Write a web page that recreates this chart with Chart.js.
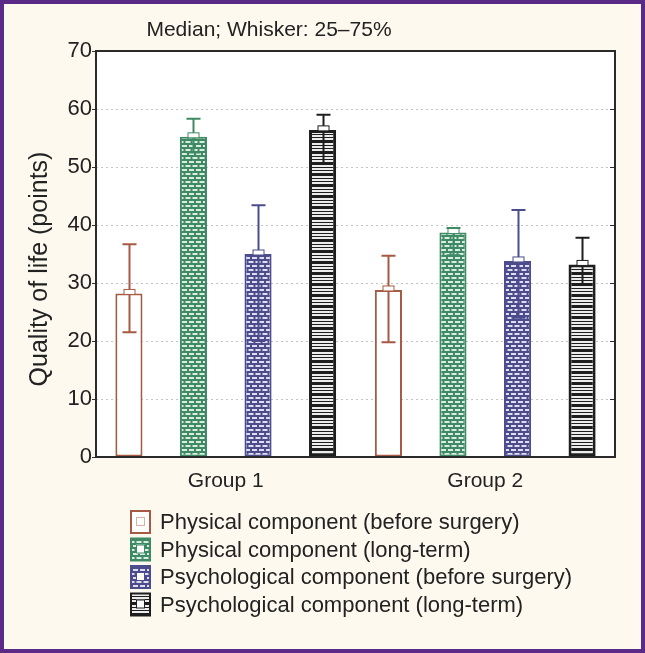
<!DOCTYPE html>
<html>
<head>
<meta charset="utf-8">
<script src="https://cdn.jsdelivr.net/npm/chart.js@4/dist/chart.umd.min.js"></script>
<style>
html,body{margin:0;padding:0;background:#fdf9ee;}
canvas{display:block;}
</style>
</head>
<body>
<canvas id="c" width="645" height="653"></canvas>
<script>
// ---- data ----
const categories = ['Group 1', 'Group 2'];
const seriesLabels = [
  'Physical component (before surgery)',
  'Physical component (long-term)',
  'Psychological component (before surgery)',
  'Psychological component (long-term)'
];
const chartTitle = 'Median; Whisker: 25\u201375%';
const yTitle = 'Quality of life (points)';
const yTicks = [0, 10, 20, 30, 40, 50, 60, 70];

const physBeforeMedian = [28.2, 28.8];
const physBeforeQ1 = [21.5, 19.8];
const physBeforeQ3 = [36.7, 34.7];

const physLongMedian = [55.2, 38.7];
const physLongQ1 = [52.5, 34.8];
const physLongQ3 = [58.3, 39.5];

const psychBeforeMedian = [35.0, 33.8];
const psychBeforeQ1 = [20.0, 24.0];
const psychBeforeQ3 = [43.4, 42.6];

const psychLongMedian = [56.4, 33.2];
const psychLongQ1 = [50.6, 29.7];
const psychLongQ3 = [59.0, 37.8];

// ---- styles ----
const colBrown = '#a65a44';
const colGreen = '#3e8a64';
const colPurple = '#4c4c8c';
const colBlack = '#1e1e1e';
const FONT = '"Liberation Sans", Arial, sans-serif';

function brickPattern(base, light) {
  const c = document.createElement('canvas');
  c.width = 7; c.height = 8;
  const g = c.getContext('2d');
  g.fillStyle = base; g.fillRect(0, 0, 7, 8);
  g.fillStyle = light;
  g.fillRect(0, 1, 5, 2);
  g.fillRect(3.5, 5, 5, 2);
  g.fillRect(-3.5, 5, 5, 2);
  return g.createPattern(c, 'repeat');
}
function stripePattern(base, light) {
  const c = document.createElement('canvas');
  c.width = 4; c.height = 11;
  const g = c.getContext('2d');
  g.fillStyle = base; g.fillRect(0, 0, 4, 11);
  g.fillStyle = light;
  g.fillRect(0, 0, 4, 2);
  g.fillRect(0, 3, 4, 2);
  g.fillRect(0, 6, 4, 2);
  return g.createPattern(c, 'repeat');
}

const fills = [
  '#ffffff',
  brickPattern(colGreen, '#dcece3'),
  brickPattern(colPurple, '#dedef0'),
  stripePattern(colBlack, '#ececec')
];
const borders = [colBrown, colGreen, colPurple, colBlack];
const medians = [physBeforeMedian, physLongMedian, psychBeforeMedian, psychLongMedian];
const q1s = [physBeforeQ1, physLongQ1, psychBeforeQ1, psychLongQ1];
const q3s = [physBeforeQ3, physLongQ3, psychBeforeQ3, psychLongQ3];

const datasets = seriesLabels.map((lab, i) => ({
  label: lab,
  data: medians[i],
  q1: q1s[i],
  q3: q3s[i],
  backgroundColor: fills[i],
  borderColor: borders[i],
  borderWidth: i === 3 ? 3 : 2,
  borderSkipped: false,
  categoryPercentage: 0.995,
  barPercentage: 0.42
}));

const framePlugin = {
  id: 'frame',
  beforeDraw(chart) {
    const ctx = chart.ctx, a = chart.chartArea;
    ctx.save();
    ctx.fillStyle = '#5b2a86';
    ctx.fillRect(0, 0, chart.width, chart.height);
    ctx.fillStyle = '#fdf9ee';
    ctx.fillRect(4, 4, chart.width - 8, chart.height - 8);
    ctx.fillStyle = '#ffffff';
    ctx.fillRect(a.left, a.top, a.right - a.left, a.bottom - a.top);
    ctx.restore();
  },
  afterDatasetsDraw(chart) {
    const ctx = chart.ctx, ys = chart.scales.y;
    ctx.save();
    chart.data.datasets.forEach((ds, di) => {
      const meta = chart.getDatasetMeta(di);
      meta.data.forEach((bar, j) => {
        const x = Math.round(bar.x) + 0.5;
        const yl = ys.getPixelForValue(ds.q1[j]);
        const yh = ys.getPixelForValue(ds.q3[j]);
        ctx.strokeStyle = ds.borderColor;
        ctx.lineWidth = 2;
        ctx.beginPath();
        ctx.moveTo(x, yl); ctx.lineTo(x, yh);
        ctx.moveTo(x - 7, yl); ctx.lineTo(x + 7, yl);
        ctx.moveTo(x - 7, yh); ctx.lineTo(x + 7, yh);
        ctx.stroke();
        // median marker
        const ym = ys.getPixelForValue(ds.data[j]);
        ctx.fillStyle = '#ffffff';
        ctx.fillRect(x - 5.5, ym - 4, 11, 5);
        ctx.lineWidth = 1;
        ctx.strokeRect(x - 5.5, ym - 4, 11, 5);
      });
    });
    ctx.restore();
  },
  afterDraw(chart) {
    const ctx = chart.ctx, a = chart.chartArea, ys = chart.scales.y;
    ctx.save();
    // plot frame
    ctx.strokeStyle = '#2a2a2a';
    ctx.lineWidth = 2;
    ctx.strokeRect(a.left, a.top, a.right - a.left, a.bottom - a.top);
    // inner right ticks
    ctx.lineWidth = 1;
    ys.ticks.forEach(t => {
      const y = Math.round(ys.getPixelForValue(t.value)) + 0.5;
      ctx.beginPath(); ctx.moveTo(a.right - 5, y); ctx.lineTo(a.right, y); ctx.stroke();
    });
    // title
    ctx.fillStyle = '#222';
    ctx.font = '21px ' + FONT;
    ctx.textAlign = 'center';
    ctx.textBaseline = 'middle';
    ctx.fillText(chartTitle, 269, 30);
    // y title
    ctx.save();
    ctx.translate(40, 269);
    ctx.rotate(-Math.PI / 2);
    ctx.font = '25px ' + FONT;
    ctx.fillText(yTitle, 0, 0);
    ctx.restore();
    // legend
    ctx.font = '22px ' + FONT;
    ctx.textAlign = 'left';
    chart.data.datasets.forEach((ds, i) => {
      const cy = 522 + i * 27.5;
      const bx = 131, bw = 19, bh = 22;
      ctx.fillStyle = ds.backgroundColor;
      ctx.fillRect(bx, cy - bh / 2, bw, bh);
      ctx.strokeStyle = ds.borderColor;
      ctx.lineWidth = 2;
      ctx.strokeRect(bx, cy - bh / 2, bw, bh);
      ctx.fillStyle = '#ffffff';
      ctx.fillRect(bx + 5, cy - 5, 9, 9);
      ctx.lineWidth = 1;
      ctx.strokeStyle = i === 0 ? '#d8b0a4' : ds.borderColor;
      ctx.strokeRect(bx + 5.5, cy - 4.5, 8, 8);
      ctx.fillStyle = '#222';
      ctx.fillText(ds.label, 160, cy + 1);
    });
    ctx.restore();
  }
};

new Chart(document.getElementById('c'), {
  type: 'bar',
  data: { labels: categories, datasets: datasets },
  options: {
    responsive: false,
    animation: false,
    devicePixelRatio: 1,
    layout: { padding: { left: 20, top: 51, right: 30, bottom: 156 } },
    plugins: { legend: { display: false }, title: { display: false }, tooltip: { enabled: false } },
    scales: {
      x: {
        grid: { display: false, drawTicks: false },
        border: { display: false },
        ticks: { color: '#222', font: { family: FONT, size: 21 }, padding: 12 },
        afterFit(s) { s.height = 40; }
      },
      y: {
        min: 0, max: 70,
        afterBuildTicks(s) { s.ticks = yTicks.map(v => ({ value: v })); },
        grid: { color: '#c4c4c4', lineWidth: 1, tickLength: 4, tickColor: '#333', drawTicks: true },
        border: { display: false, dash: [2, 3] },
        ticks: { color: '#222', font: { family: FONT, size: 22 }, padding: 0 },
        afterFit(s) { s.width = 76; }
      }
    }
  },
  plugins: [framePlugin]
});
</script>
</body>
</html>
